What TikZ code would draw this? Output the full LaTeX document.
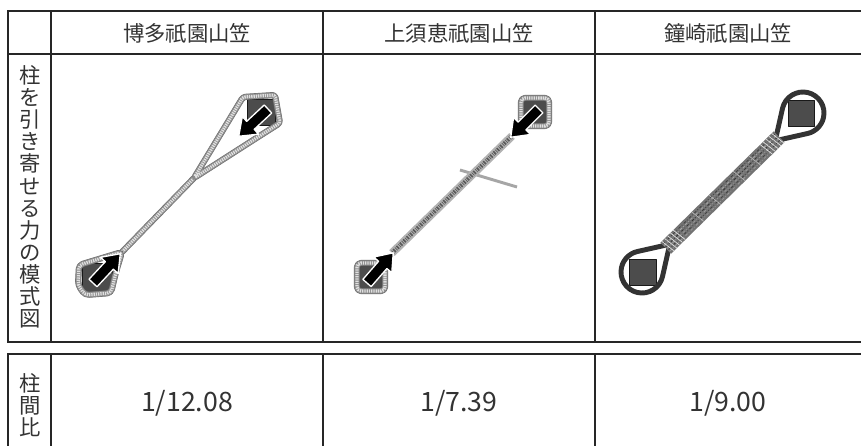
\documentclass[tikz,border=0pt]{standalone}
\usepackage{fontspec}
\setmainfont{Noto Sans CJK JP}
\usetikzlibrary{arrows}

\tikzset{pics/push/.style={code={% fat arrow, tail at origin, pointing along x
    \filldraw[fill = black, draw = white, line width = 1pt]
        (0,-5.5) -- (24,-5.5) -- (24,-12) -- (40,0) -- (24,12) -- (24,5.5)
        -- (0,5.5) -- cycle;}}}

\begin{document}
\begin{tikzpicture}[x = 0.75pt, y = -0.75pt, % one unit per pixel, y runs down
                line join = round,
                semithick % line style
            ]

            \tikzstyle{grid}=[draw = black!85, line width = 1.5pt, line join = miter]
            \tikzstyle{head}=[text = black!80, font = \fontsize{16}{16}\selectfont]
            \tikzstyle{side}=[text = black!80, align = center, inner sep = 0pt,
            font = \fontsize{16}{16.6}\selectfont]
            \tikzstyle{ratio}=[text = black!80, font = \fontsize{20}{20}\selectfont]
            \tikzstyle{pillar}=[fill = black!70, draw = black!90, line width = 0.5pt]
            \tikzstyle{rope}=[draw = black!45, line width = 4pt,
            preaction = {draw = black!60, line width = 4.6pt},
            postaction = {draw = black!12, line width = 2.4pt,
                dash pattern = on 1pt off 0.7pt}]
            \tikzstyle{wire}=[draw = black!30, line width = 6pt,
            postaction = {draw = black!65, line width = 3pt,
                dash pattern = on 1.2pt off 0.8pt on 0.5pt off 1pt}]
            \tikzstyle{eye}=[draw = black!80, line width = 3.7pt]

            \useasboundingbox (0,0) rectangle (861,446);

            % table frames
            \draw[grid] (861,11) -- (8,11) -- (8,342) -- (861,342);
            \draw[grid] (8,54) -- (861,54);
            \foreach \x in {51,323,595} \draw[grid] (\x,11) -- (\x,342);
            \draw[grid] (8,446) -- (8,354) -- (861,354);
            \foreach \x in {51,323,595} \draw[grid] (\x,354) -- (\x,446);

            % texts
            \node[head] (h1) at (187,33) {博多祇園山笠};
            \node[head] (h2) at (459,33) {上須恵祇園山笠};
            \node[head] (h3) at (728,33) {鐘崎祇園山笠};
            \node[side] (s1) at (30,197) {柱\\を\\引\\き\\寄\\せ\\る\\力\\の\\模\\式\\図};
            \node[side] (s2) at (30,405) {柱\\間\\比};
            \node[ratio] (r1) at (187,403) {1/12.08};
            \node[ratio] (r2) at (459,403) {1/7.39};
            \node[ratio] (r3) at (728,403) {1/9.00};

            % hakata: rope forks round the upper pillar
            \filldraw[pillar] (82,263) rectangle (112,292);
            \filldraw[pillar] (247,99) rectangle (275,125);
            \coordinate (fork) at (194,178);
            \coordinate (end) at (122,252);
            \draw[rope] (end) -- (fork);
            \draw[rope, rounded corners = 2pt] (fork) -- (243,97) -- (275,95)
            -- (280,123) -- (258,137) -- cycle;
            \draw[rope, rounded corners = 3pt] (end) -- (79,265) -- (78,285)
            -- (85,295) -- (111,293) -- (116,272) -- cycle;
            \pic[rotate = 47] at (93,283) {push};
            \pic[rotate = 223] at (268,109) {push};

            % kamisue: straight rope, crossing bar
            \draw[black!35, line width = 2.2pt] (460,170) -- (517,187);
            \draw[wire] (512,136) -- (392,253);
            \draw[rope, fill = black!70, rounded corners = 3pt] (521,98) rectangle (549,126);
            \draw[rope, fill = black!70, rounded corners = 3pt] (357,263) rectangle (385,291);
            \pic[rotate = 225] at (539,109) {push};
            \pic[rotate = 49] at (367,283) {push};

            % kanezaki: eyes at both ends, bound rope between
            \filldraw[pillar] (788,100) rectangle (814,126);
            \filldraw[pillar] (629,259) rectangle (656,285);
            \begin{scope}[shift = {(803,113)}, rotate = 225]
                \draw[eye] (44,-3) -- (58:21) arc[start angle = 58, end angle = 302,
                radius = 21] -- (44,3);
            \end{scope}
            \begin{scope}[shift = {(642,272)}, rotate = 45]
                \draw[eye] (44,-3) -- (58:21) arc[start angle = 58, end angle = 302,
                radius = 21] -- (44,3);
            \end{scope}
            \begin{scope}[shift = {(670,244)}, rotate = 44.5]
                \draw[black!55, line width = 11.5pt] (-6,0) -- (153,0);
                \foreach \y/\c in {-5/black!75, -3/black!35, -1/black!80, 1/black!40,
                    3/black!75, 5/black!40}
                \draw[\c, line width = 0.6pt, dash pattern = on 2pt off 1.3pt on 0.6pt off 1.6pt]
                (-5,\y) -- (152,\y);
                \foreach \x in {-4,0,4,8,12,134,138,142,146,150}
                \draw[black!10, line width = 0.5pt] (\x,-7.6) -- (\x+2,7.6);
                \foreach \x in {38,62,96,118}
                \draw[black!25, line width = 0.4pt] (\x,-7.6) -- (\x+2,7.6);
            \end{scope}
        \end{tikzpicture}
\end{document}
